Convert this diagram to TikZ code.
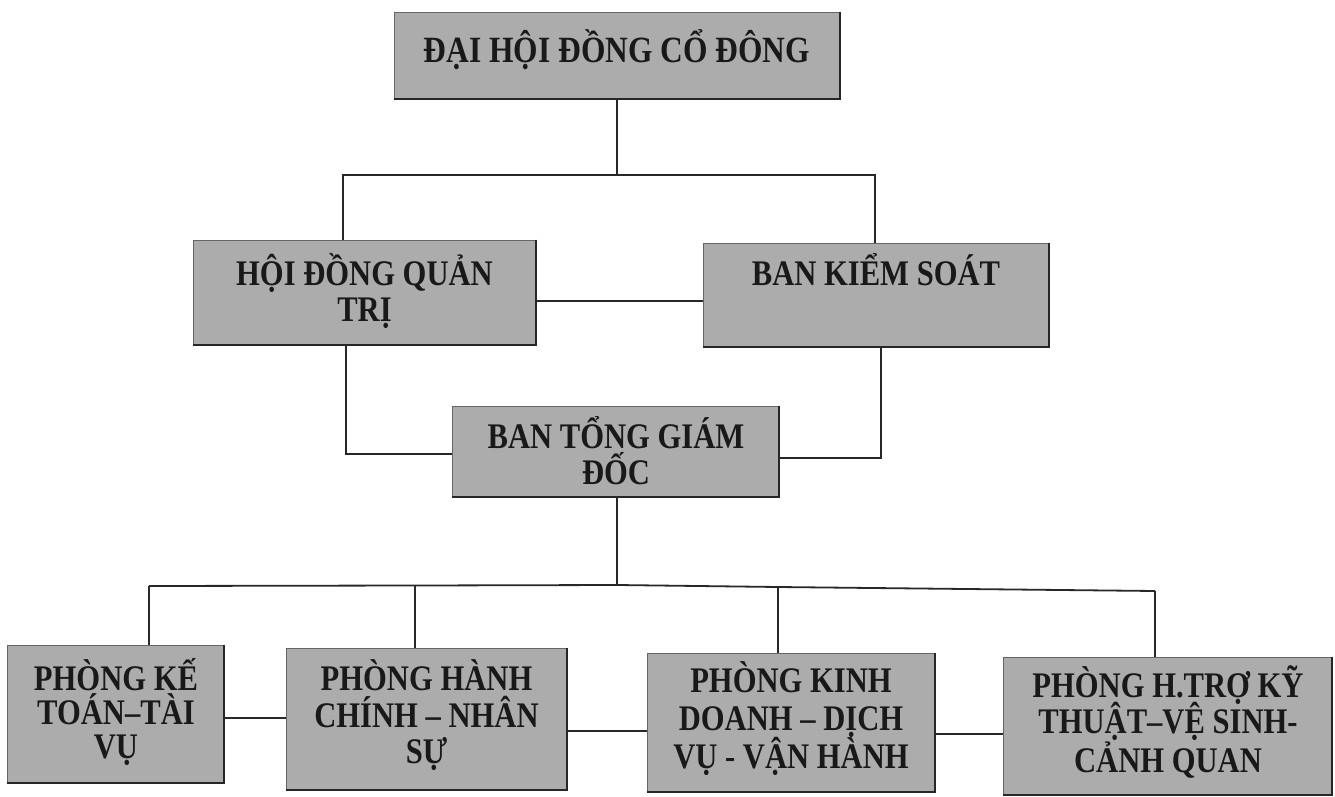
\documentclass[tikz,border=0pt]{standalone}
\usepackage{fontspec}
\setmainfont{Liberation Serif}[FakeStretch=0.85]
\definecolor{boxgray}{RGB}{172,172,172}
\definecolor{linecol}{RGB}{40,40,40}
\begin{document}
\begin{tikzpicture}[x=1pt,y=-1pt,
  box/.style={rectangle, fill=boxgray, draw=black!60, line width=0.7pt, inner sep=0pt},
  shade/.style={draw=black!85, line width=2pt},
  conn/.style={draw=linecol, line width=1.8pt},
  txt/.style={anchor=base, inner sep=0pt, text=black!90, font=\bfseries\fontsize{36}{38}\selectfont},
  bigtxt/.style={txt, font=\bfseries\fontsize{37}{40}\selectfont}]
\useasboundingbox[fill=white] (0,0) rectangle (1335,797);

% boxes
\node[box, minimum width=446pt, minimum height=87pt] (T) at (617,55.5) {};
\node[box, minimum width=343pt, minimum height=105pt] (H) at (364.5,292.5) {};
\node[box, minimum width=346pt, minimum height=104pt] (B) at (876,295) {};
\node[box, minimum width=327pt, minimum height=91pt] (G) at (615.5,451.5) {};
\node[box, minimum width=217pt, minimum height=138pt] (P1) at (115.5,714) {};
\node[box, minimum width=281pt, minimum height=142pt] (P2) at (426.5,719) {};
\node[box, minimum width=288pt, minimum height=139pt] (P3) at (791,722.5) {};
\node[box, minimum width=329pt, minimum height=138pt] (P4) at (1167.5,726) {};
\foreach \n in {T,H,B,G,P1,P2,P3,P4}
  \draw[shade] (\n.north east) -- (\n.south east) -- (\n.south west);

% texts
\node[bigtxt] (T1) at (617,63) {ĐẠI HỘI ĐỒNG CỔ ĐÔNG};
\node[txt] (H1) at (364.5,285) {HỘI ĐỒNG QUẢN};
\node[txt] (H2) at (364.5,321) {TRỊ};
\node[txt] (B1) at (876,285) {BAN KIỂM SOÁT};
\node[txt] (G1) at (616,448) {BAN TỔNG GIÁM};
\node[txt] (G2) at (616,484) {ĐỐC};
\node[txt] (P1a) at (116,690) {PHÒNG KẾ};
\node[txt] (P1b) at (116,724) {TOÁN–TÀI};
\node[txt] (P1c) at (116,758) {VỤ};
\node[txt] (P2a) at (426.5,690) {PHÒNG HÀNH};
\node[txt] (P2b) at (426.5,727) {CHÍNH – NHÂN};
\node[txt] (P2c) at (426.5,763) {SỰ};
\node[txt] (P3a) at (791,692) {PHÒNG KINH};
\node[txt] (P3b) at (791,730) {DOANH – DỊCH};
\node[txt] (P3c) at (791,768) {VỤ - VẬN HÀNH};
\node[txt] (P4a) at (1168,697) {PHÒNG H.TRỢ KỸ};
\node[txt] (P4b) at (1168,733) {THUẬT–VỆ SINH-};
\node[txt] (P4c) at (1168,772) {CẢNH QUAN};

% connectors, upper part
\coordinate (j) at (617,175);
\coordinate (jl) at (343,175);
\coordinate (jr) at (875,175);
\draw[conn] (T.south) -- (j);
\draw[conn] (jl |- H.north) -- (jl) -- (jr) -- (jr |- B.north);
\coordinate (hb) at (0,301);
\draw[conn] (H.east |- hb) -- (B.west |- hb);
\coordinate (hg) at (346,454);
\draw[conn] (hg |- H.south) -- (hg) -- (G.west |- hg);
\coordinate (bg) at (881,458);
\draw[conn] (bg |- B.south) -- (bg) -- (G.east |- bg);

% connectors, lower part
\coordinate (bus) at (617,585);
\coordinate (c1) at (149,586);
\coordinate (c2) at (415,585.5);
\coordinate (c3) at (778,587);
\coordinate (c4) at (1155,591);
\draw[conn] (G.south -| bus) -- (bus);
\draw[conn] (c1) -- (c2) -- (bus) -- (c3) -- (c4);
\draw[conn] (c1) -- (c1 |- P1.north);
\draw[conn] (c2) -- (c2 |- P2.north);
\draw[conn] (c3) -- (c3 |- P3.north);
\draw[conn] (c4) -- (c4 |- P4.north);
\coordinate (k1) at (0,718);
\coordinate (k2) at (0,731);
\coordinate (k3) at (0,734);
\draw[conn] (P1.east |- k1) -- (P2.west |- k1);
\draw[conn] (P2.east |- k2) -- (P3.west |- k2);
\draw[conn] (P3.east |- k3) -- (P4.west |- k3);
\end{tikzpicture}
\end{document}
